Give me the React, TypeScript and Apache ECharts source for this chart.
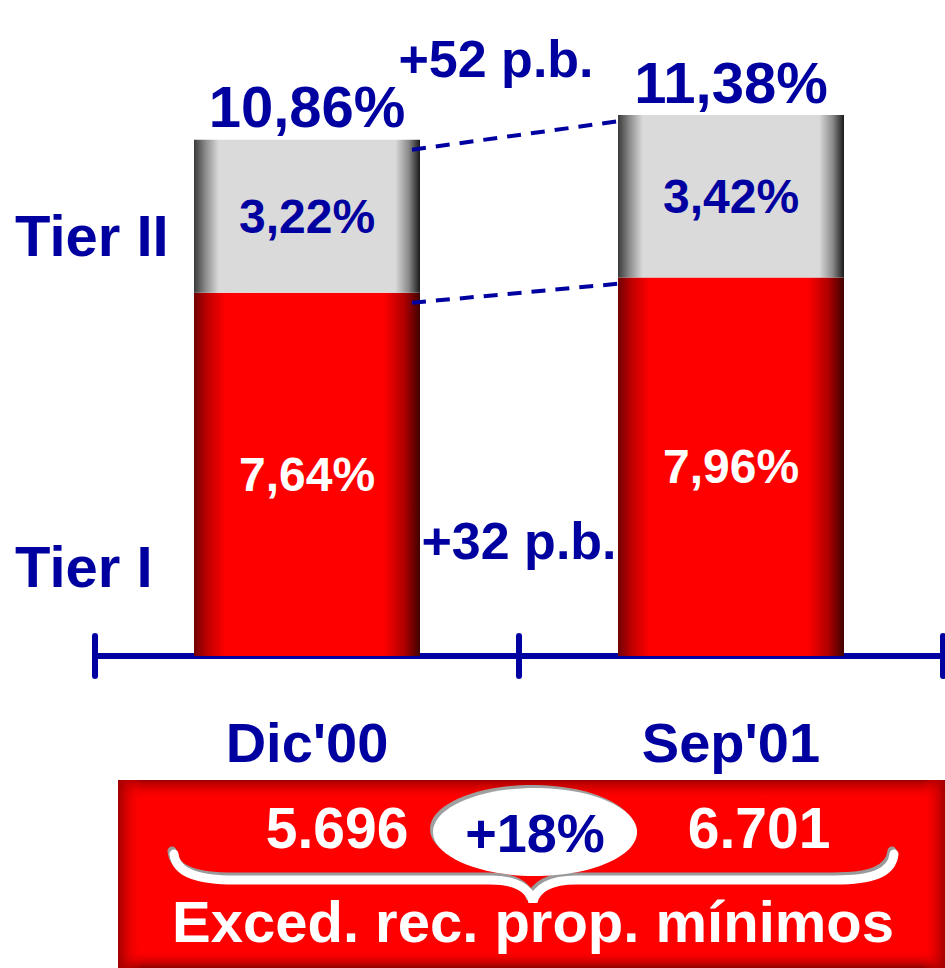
import React, { useEffect, useRef } from "react";
import * as echarts from "echarts";

// ---------- data ----------
const categories = ["Dic'00", "Sep'01"];
const seriesNames = ["Tier I", "Tier II"];
const tier1 = [7.64, 7.96];
const tier2 = [3.22, 3.42];
const totals = [10.86, 11.38];
const surplus = [5696, 6701];
const surplusTitle = "Exced. rec. prop. mínimos";

// ---------- helpers ----------
const BLUE = "#0000A0";
const FONT = "'Liberation Sans', Arial, Helvetica, sans-serif";
const BAR_W = 226;

const pct = (v: number) => v.toFixed(2).replace(".", ",") + "%";
const thousands = (v: number) => String(v).replace(/\B(?=(\d{3})+(?!\d))/g, ".");
const bp = (a: number, b: number) => "+" + Math.round((b - a) * 100) + " p.b.";
const growth = "+" + Math.round((surplus[1] / surplus[0] - 1) * 100) + "%";

const bracePath =
  "M 174 854 C 176 874 200 880 235 880 L 490 880 C 515 880 530 888 533 902 C 536 888 551 880 576 880 L 835 880 C 870 880 892 874 894 854";
echarts.graphic.registerShape("brace", echarts.graphic.extendPath(bracePath, {}) as any);

const redGrad = {
  type: "linear", x: 0, y: 0, x2: 1, y2: 0,
  colorStops: [
    { offset: 0, color: "#700000" },
    { offset: 0.06, color: "#c00000" },
    { offset: 0.14, color: "#ff0000" },
    { offset: 0.84, color: "#ff0000" },
    { offset: 0.93, color: "#b00000" },
    { offset: 1, color: "#400000" },
  ],
};
const grayGrad = {
  type: "linear", x: 0, y: 0, x2: 1, y2: 0,
  colorStops: [
    { offset: 0, color: "#3a3a3a" },
    { offset: 0.05, color: "#8a8a8a" },
    { offset: 0.11, color: "#dadada" },
    { offset: 0.89, color: "#dadada" },
    { offset: 0.95, color: "#8a8a8a" },
    { offset: 1, color: "#1a1a1a" },
  ],
};

const txt = (text: string, x: number, y: number, size: number, fill: string, align = "center", z = 20) => ({
  type: "text",
  x,
  y,
  z,
  style: {
    text,
    fill,
    fontSize: size,
    fontWeight: "bold",
    fontFamily: FONT,
    align,
    verticalAlign: "middle",
    textAlign: align,
    textVerticalAlign: "middle",
  },
});

const lin = (x: number, y: number, x2: number, y2: number, c0: string, c1: string) => ({
  type: "linear", x, y, x2, y2,
  colorStops: [
    { offset: 0, color: c0 },
    { offset: 1, color: c1 },
  ],
});

const option: any = {
  animation: false,
  backgroundColor: "#ffffff",
  grid: { left: 95, right: 2, top: 38, bottom: 312, containLabel: false },
  xAxis: [
    {
      type: "category",
      data: categories,
      position: "bottom",
      axisLine: { show: true, lineStyle: { color: BLUE, width: 6, cap: "round" } },
      axisTick: { show: true, inside: false, length: 20, lineStyle: { color: BLUE, width: 6, cap: "round" } },
      axisLabel: {
        show: true,
        margin: 58,
        color: BLUE,
        fontSize: 56,
        fontWeight: "bold",
        fontFamily: FONT,
      },
      splitLine: { show: false },
    },
    {
      type: "category",
      data: categories,
      position: "bottom",
      axisLine: { show: false },
      axisTick: { show: true, inside: true, length: 20, lineStyle: { color: BLUE, width: 6, cap: "round" } },
      axisLabel: { show: false },
      splitLine: { show: false },
    },
  ],
  yAxis: {
    type: "value",
    min: 0,
    max: 13,
    show: false,
    splitLine: { show: false },
  },
  series: [
    {
      name: seriesNames[0],
      type: "bar",
      stack: "capital",
      barWidth: BAR_W,
      data: tier1,
      itemStyle: { color: redGrad },
      label: {
        show: true,
        position: "inside",
        formatter: (p: any) => pct(p.value),
        color: "#ffffff",
        fontSize: 48,
        fontWeight: "bold",
        fontFamily: FONT,
      },
      z: 2,
    },
    {
      name: seriesNames[1],
      type: "bar",
      stack: "capital",
      barWidth: BAR_W,
      data: tier2,
      itemStyle: { color: grayGrad, borderColor: "#333333", borderWidth: 0 },
      label: {
        show: true,
        position: "inside",
        formatter: (p: any) => pct(p.value),
        color: BLUE,
        fontSize: 48,
        fontWeight: "bold",
        fontFamily: FONT,
      },
      z: 2,
    },
    {
      name: "Total",
      type: "scatter",
      data: totals,
      symbolSize: 0,
      silent: true,
      itemStyle: { opacity: 1 },
      label: {
        show: true,
        position: "top",
        distance: 4,
        opacity: 1,
        formatter: (p: any) => pct(p.value),
        color: BLUE,
        fontSize: 58,
        fontWeight: "bold",
        fontFamily: FONT,
      },
      z: 4,
    },
    {
      name: "connectors",
      type: "custom",
      silent: true,
      data: [
        [0, totals[0], 1, totals[1]],
        [0, tier1[0], 1, tier1[1]],
      ],
      encode: { x: [0, 2], y: [1, 3] },
      renderItem: (params: any, api: any) => {
        const a = api.coord([api.value(0), api.value(1)]);
        const b = api.coord([api.value(2), api.value(3)]);
        const half = BAR_W / 2;
        return {
          type: "line",
          shape: { x1: a[0] + half - 8, y1: a[1] + 10, x2: b[0] - half + 2, y2: b[1] + 6 },
          style: { stroke: BLUE, lineWidth: 4, lineDash: [14, 10], fill: null },
        };
      },
      z: 5,
    },
  ],
  graphic: [
    txt(seriesNames[1], 15, 235, 58, BLUE, "left"),
    txt(seriesNames[0], 15, 566, 58, BLUE, "left"),
    txt(bp(totals[0], totals[1]), 496, 59, 52, BLUE),
    txt(bp(tier1[0], tier1[1]), 519, 541, 52, BLUE),
    // bottom box
    { type: "rect", z: 10, shape: { x: 118, y: 780, width: 827, height: 188 }, style: { fill: "#ff0000" } },
    { type: "rect", z: 11, shape: { x: 118, y: 780, width: 827, height: 20 }, style: { fill: lin(0, 0, 0, 1, "#a00000", "rgba(255,0,0,0)") } },
    { type: "rect", z: 11, shape: { x: 118, y: 950, width: 827, height: 18 }, style: { fill: lin(0, 0, 0, 1, "rgba(255,0,0,0)", "#900000") } },
    { type: "rect", z: 11, shape: { x: 118, y: 780, width: 24, height: 188 }, style: { fill: lin(0, 0, 1, 0, "#a00000", "rgba(255,0,0,0)") } },
    { type: "rect", z: 11, shape: { x: 923, y: 780, width: 22, height: 188 }, style: { fill: lin(0, 0, 1, 0, "rgba(255,0,0,0)", "#a00000") } },
    { type: "ellipse", z: 12, shape: { cx: 532, cy: 829, rx: 102, ry: 44 }, style: { fill: "#a0a0a0" } },
    { type: "ellipse", z: 13, shape: { cx: 535, cy: 832, rx: 102, ry: 44 }, style: { fill: "#ffffff" } },
    { type: "brace", z: 12, x: -2, y: -3, style: { stroke: "#9a9a9a", lineWidth: 9, fill: null, lineCap: "round" } },
    { type: "brace", z: 13, x: 0, y: 0, style: { stroke: "#ffffff", lineWidth: 9, fill: null, lineCap: "round" } },
    txt(thousands(surplus[0]), 337, 828, 57, "#ffffff", "center", 14),
    txt(thousands(surplus[1]), 759, 828, 57, "#ffffff", "center", 14),
    txt(growth, 535, 833, 54, BLUE, "center", 14),
    txt(surplusTitle, 533, 921, 58, "#ffffff", "center", 14),
  ],
};

export default function App() {
  const ref = useRef<HTMLDivElement>(null);
  useEffect(() => {
    if (!ref.current) return;
    const chart = echarts.init(ref.current, null, { renderer: "svg" });
    chart.setOption(option);
    return () => {
      chart.dispose();
    };
  }, []);
  return (
    <div
      ref={ref}
      style={{ position: "absolute", left: 0, top: 0, width: 945, height: 968, background: "#ffffff" }}
    />
  );
}
